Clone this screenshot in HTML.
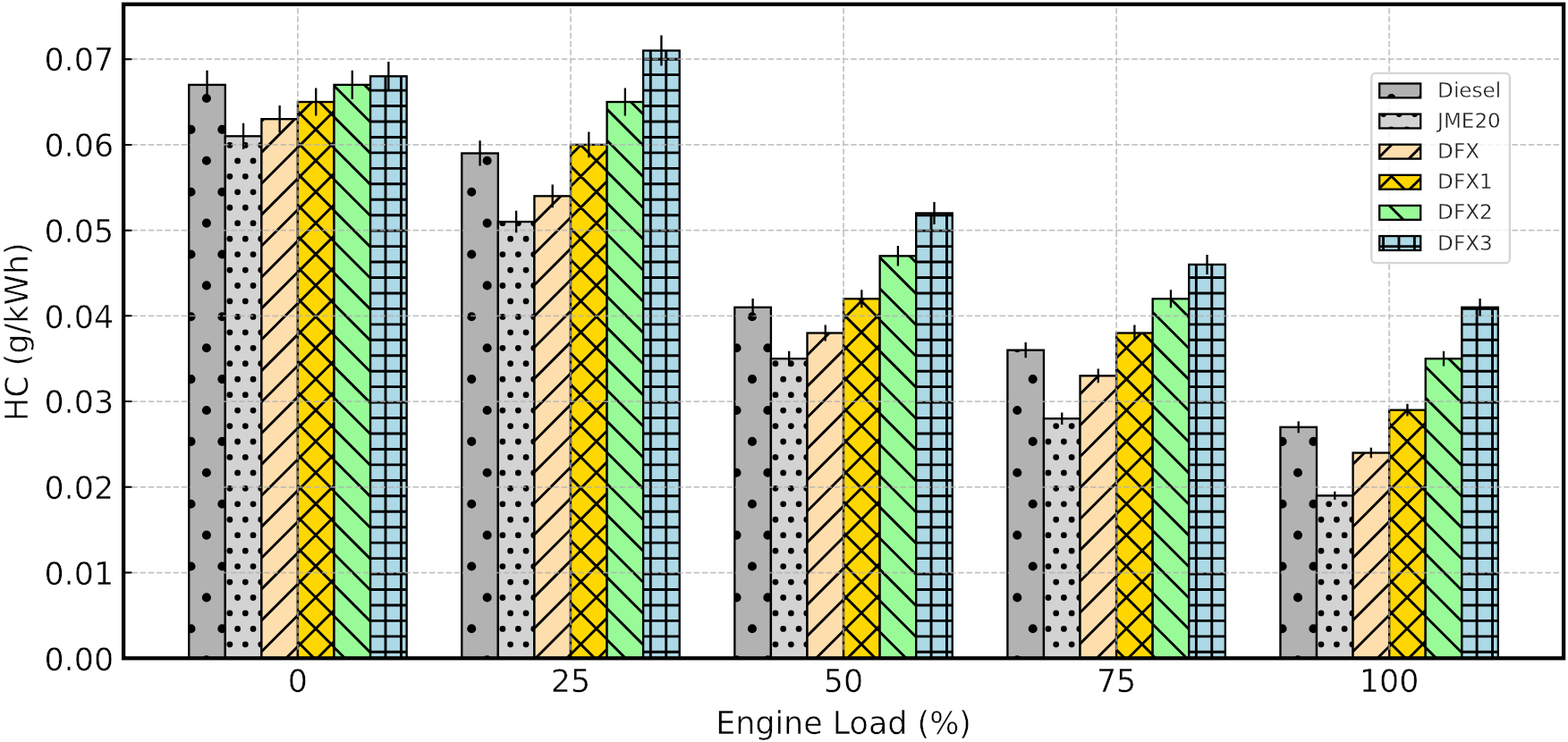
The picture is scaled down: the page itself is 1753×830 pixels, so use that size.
<!DOCTYPE html><html><head><meta charset="utf-8"><title>HC emissions vs engine load</title><style>html,body{margin:0;padding:0;background:#fff;}svg{display:block;}</style></head><body><svg width="1753" height="830" viewBox="0 0 1753 830"><defs><clipPath id="c1"><rect x="211.24" y="94.88" width="40.57" height="641.42"/></clipPath><clipPath id="c2"><rect x="516.29" y="171.47" width="40.57" height="564.83"/></clipPath><clipPath id="c3"><rect x="821.34" y="343.79" width="40.57" height="392.51"/></clipPath><clipPath id="c4"><rect x="1126.39" y="391.66" width="40.57" height="344.64"/></clipPath><clipPath id="c5"><rect x="1431.44" y="477.82" width="40.57" height="258.48"/></clipPath><clipPath id="c6"><rect x="251.81" y="152.32" width="40.57" height="583.98"/></clipPath><clipPath id="c7"><rect x="556.86" y="248.06" width="40.57" height="488.24"/></clipPath><clipPath id="c8"><rect x="861.91" y="401.23" width="40.57" height="335.07"/></clipPath><clipPath id="c9"><rect x="1166.96" y="468.24" width="40.57" height="268.06"/></clipPath><clipPath id="c10"><rect x="1472.01" y="554.41" width="40.57" height="181.89"/></clipPath><clipPath id="c11"><rect x="292.38" y="133.18" width="40.57" height="603.12"/></clipPath><clipPath id="c12"><rect x="597.43" y="219.34" width="40.57" height="516.96"/></clipPath><clipPath id="c13"><rect x="902.48" y="372.51" width="40.57" height="363.79"/></clipPath><clipPath id="c14"><rect x="1207.53" y="420.38" width="40.57" height="315.92"/></clipPath><clipPath id="c15"><rect x="1512.58" y="506.54" width="40.57" height="229.76"/></clipPath><clipPath id="c16"><rect x="332.95" y="114.03" width="40.57" height="622.27"/></clipPath><clipPath id="c17"><rect x="638" y="161.9" width="40.57" height="574.4"/></clipPath><clipPath id="c18"><rect x="943.05" y="334.22" width="40.57" height="402.08"/></clipPath><clipPath id="c19"><rect x="1248.1" y="372.51" width="40.57" height="363.79"/></clipPath><clipPath id="c20"><rect x="1553.15" y="458.67" width="40.57" height="277.63"/></clipPath><clipPath id="c21"><rect x="373.52" y="94.88" width="40.57" height="641.42"/></clipPath><clipPath id="c22"><rect x="678.57" y="114.03" width="40.57" height="622.27"/></clipPath><clipPath id="c23"><rect x="983.62" y="286.35" width="40.57" height="449.95"/></clipPath><clipPath id="c24"><rect x="1288.67" y="334.22" width="40.57" height="402.08"/></clipPath><clipPath id="c25"><rect x="1593.72" y="401.23" width="40.57" height="335.07"/></clipPath><clipPath id="c26"><rect x="414.09" y="85.31" width="40.57" height="650.99"/></clipPath><clipPath id="c27"><rect x="719.14" y="56.59" width="40.57" height="679.71"/></clipPath><clipPath id="c28"><rect x="1024.19" y="238.48" width="40.57" height="497.82"/></clipPath><clipPath id="c29"><rect x="1329.24" y="295.92" width="40.57" height="440.38"/></clipPath><clipPath id="c30"><rect x="1634.29" y="343.79" width="40.57" height="392.51"/></clipPath><clipPath id="c31"><rect x="1542.2" y="93.45" width="46" height="15.9"/></clipPath><clipPath id="c32"><rect x="1542.2" y="127.57" width="46" height="15.9"/></clipPath><clipPath id="c33"><rect x="1542.2" y="161.69" width="46" height="15.9"/></clipPath><clipPath id="c34"><rect x="1542.2" y="195.81" width="46" height="15.9"/></clipPath><clipPath id="c35"><rect x="1542.2" y="229.93" width="46" height="15.9"/></clipPath><clipPath id="c36"><rect x="1542.2" y="264.05" width="46" height="15.9"/></clipPath></defs><rect width="1753" height="830" fill="#fff"/><rect x="211.24" y="94.88" width="40.57" height="641.42" fill="#b2b2b2"/><path clip-path="url(#c1)" d="M230.9 110h0M213.47 144.9h0M248.33 144.9h0M230.9 179.8h0M213.47 214.7h0M248.33 214.7h0M230.9 249.6h0M213.47 284.5h0M248.33 284.5h0M230.9 319.4h0M213.47 354.3h0M248.33 354.3h0M230.9 389.2h0M213.47 424.1h0M248.33 424.1h0M230.9 459h0M213.47 493.9h0M248.33 493.9h0M230.9 528.8h0M213.47 563.7h0M248.33 563.7h0M230.9 598.6h0M213.47 633.5h0M248.33 633.5h0M230.9 668.4h0M213.47 703.3h0M248.33 703.3h0M230.9 738.2h0" stroke="#000" stroke-width="10.1" stroke-linecap="round"/><rect x="211.24" y="94.88" width="40.57" height="641.42" fill="none" stroke="#000" stroke-width="2.33"/><rect x="516.29" y="171.47" width="40.57" height="564.83" fill="#b2b2b2"/><path clip-path="url(#c2)" d="M544.64 179.8h0M527.21 214.7h0M544.64 249.6h0M527.21 284.5h0M544.64 319.4h0M527.21 354.3h0M544.64 389.2h0M527.21 424.1h0M544.64 459h0M527.21 493.9h0M544.64 528.8h0M527.21 563.7h0M544.64 598.6h0M527.21 633.5h0M544.64 668.4h0M527.21 703.3h0M544.64 738.2h0" stroke="#000" stroke-width="10.1" stroke-linecap="round"/><rect x="516.29" y="171.47" width="40.57" height="564.83" fill="none" stroke="#000" stroke-width="2.33"/><rect x="821.34" y="343.79" width="40.57" height="392.51" fill="#b2b2b2"/><path clip-path="url(#c3)" d="M840.95 354.3h0M823.52 389.2h0M858.38 389.2h0M840.95 424.1h0M823.52 459h0M858.38 459h0M840.95 493.9h0M823.52 528.8h0M858.38 528.8h0M840.95 563.7h0M823.52 598.6h0M858.38 598.6h0M840.95 633.5h0M823.52 668.4h0M858.38 668.4h0M840.95 703.3h0M823.52 738.2h0M858.38 738.2h0" stroke="#000" stroke-width="10.1" stroke-linecap="round"/><rect x="821.34" y="343.79" width="40.57" height="392.51" fill="none" stroke="#000" stroke-width="2.33"/><rect x="1126.39" y="391.66" width="40.57" height="344.64" fill="#b2b2b2"/><path clip-path="url(#c4)" d="M1137.26 389.2h0M1154.69 424.1h0M1137.26 459h0M1154.69 493.9h0M1137.26 528.8h0M1154.69 563.7h0M1137.26 598.6h0M1154.69 633.5h0M1137.26 668.4h0M1154.69 703.3h0M1137.26 738.2h0" stroke="#000" stroke-width="10.1" stroke-linecap="round"/><rect x="1126.39" y="391.66" width="40.57" height="344.64" fill="none" stroke="#000" stroke-width="2.33"/><rect x="1431.44" y="477.82" width="40.57" height="258.48" fill="#b2b2b2"/><path clip-path="url(#c5)" d="M1433.57 493.9h0M1468.43 493.9h0M1451 528.8h0M1433.57 563.7h0M1468.43 563.7h0M1451 598.6h0M1433.57 633.5h0M1468.43 633.5h0M1451 668.4h0M1433.57 703.3h0M1468.43 703.3h0M1451 738.2h0" stroke="#000" stroke-width="10.1" stroke-linecap="round"/><rect x="1431.44" y="477.82" width="40.57" height="258.48" fill="none" stroke="#000" stroke-width="2.33"/><rect x="251.81" y="152.32" width="40.57" height="583.98" fill="#d3d3d3"/><path clip-path="url(#c6)" d="M256.89 162.45h0M274.31 162.45h0M291.75 162.45h0M265.6 179.9h0M283.03 179.9h0M256.89 197.35h0M274.31 197.35h0M291.75 197.35h0M265.6 214.8h0M283.03 214.8h0M256.89 232.25h0M274.31 232.25h0M291.75 232.25h0M265.6 249.7h0M283.03 249.7h0M256.89 267.15h0M274.31 267.15h0M291.75 267.15h0M265.6 284.6h0M283.03 284.6h0M256.89 302.05h0M274.31 302.05h0M291.75 302.05h0M265.6 319.5h0M283.03 319.5h0M256.89 336.95h0M274.31 336.95h0M291.75 336.95h0M265.6 354.4h0M283.03 354.4h0M256.89 371.85h0M274.31 371.85h0M291.75 371.85h0M265.6 389.3h0M283.03 389.3h0M256.89 406.75h0M274.31 406.75h0M291.75 406.75h0M265.6 424.2h0M283.03 424.2h0M256.89 441.65h0M274.31 441.65h0M291.75 441.65h0M265.6 459.1h0M283.03 459.1h0M256.89 476.55h0M274.31 476.55h0M291.75 476.55h0M265.6 494h0M283.03 494h0M256.89 511.45h0M274.31 511.45h0M291.75 511.45h0M265.6 528.9h0M283.03 528.9h0M256.89 546.35h0M274.31 546.35h0M291.75 546.35h0M265.6 563.8h0M283.03 563.8h0M256.89 581.25h0M274.31 581.25h0M291.75 581.25h0M265.6 598.7h0M283.03 598.7h0M256.89 616.15h0M274.31 616.15h0M291.75 616.15h0M265.6 633.6h0M283.03 633.6h0M256.89 651.05h0M274.31 651.05h0M291.75 651.05h0M265.6 668.5h0M283.03 668.5h0M256.89 685.95h0M274.31 685.95h0M291.75 685.95h0M265.6 703.4h0M283.03 703.4h0M256.89 720.85h0M274.31 720.85h0M291.75 720.85h0M265.6 738.3h0M283.03 738.3h0" stroke="#000" stroke-width="6.8" stroke-linecap="round"/><rect x="251.81" y="152.32" width="40.57" height="583.98" fill="none" stroke="#000" stroke-width="2.33"/><rect x="556.86" y="248.06" width="40.57" height="488.24" fill="#d3d3d3"/><path clip-path="url(#c7)" d="M561.91 249.7h0M579.34 249.7h0M596.77 249.7h0M570.62 267.15h0M588.06 267.15h0M561.91 284.6h0M579.34 284.6h0M596.77 284.6h0M570.62 302.05h0M588.06 302.05h0M561.91 319.5h0M579.34 319.5h0M596.77 319.5h0M570.62 336.95h0M588.06 336.95h0M561.91 354.4h0M579.34 354.4h0M596.77 354.4h0M570.62 371.85h0M588.06 371.85h0M561.91 389.3h0M579.34 389.3h0M596.77 389.3h0M570.62 406.75h0M588.06 406.75h0M561.91 424.2h0M579.34 424.2h0M596.77 424.2h0M570.62 441.65h0M588.06 441.65h0M561.91 459.1h0M579.34 459.1h0M596.77 459.1h0M570.62 476.55h0M588.06 476.55h0M561.91 494h0M579.34 494h0M596.77 494h0M570.62 511.45h0M588.06 511.45h0M561.91 528.9h0M579.34 528.9h0M596.77 528.9h0M570.62 546.35h0M588.06 546.35h0M561.91 563.8h0M579.34 563.8h0M596.77 563.8h0M570.62 581.25h0M588.06 581.25h0M561.91 598.7h0M579.34 598.7h0M596.77 598.7h0M570.62 616.15h0M588.06 616.15h0M561.91 633.6h0M579.34 633.6h0M596.77 633.6h0M570.62 651.05h0M588.06 651.05h0M561.91 668.5h0M579.34 668.5h0M596.77 668.5h0M570.62 685.95h0M588.06 685.95h0M561.91 703.4h0M579.34 703.4h0M596.77 703.4h0M570.62 720.85h0M588.06 720.85h0M561.91 738.3h0M579.34 738.3h0M596.77 738.3h0" stroke="#000" stroke-width="6.8" stroke-linecap="round"/><rect x="556.86" y="248.06" width="40.57" height="488.24" fill="none" stroke="#000" stroke-width="2.33"/><rect x="861.91" y="401.23" width="40.57" height="335.07" fill="#d3d3d3"/><path clip-path="url(#c8)" d="M866.94 406.75h0M884.37 406.75h0M901.79 406.75h0M875.65 424.2h0M893.08 424.2h0M866.94 441.65h0M884.37 441.65h0M901.79 441.65h0M875.65 459.1h0M893.08 459.1h0M866.94 476.55h0M884.37 476.55h0M901.79 476.55h0M875.65 494h0M893.08 494h0M866.94 511.45h0M884.37 511.45h0M901.79 511.45h0M875.65 528.9h0M893.08 528.9h0M866.94 546.35h0M884.37 546.35h0M901.79 546.35h0M875.65 563.8h0M893.08 563.8h0M866.94 581.25h0M884.37 581.25h0M901.79 581.25h0M875.65 598.7h0M893.08 598.7h0M866.94 616.15h0M884.37 616.15h0M901.79 616.15h0M875.65 633.6h0M893.08 633.6h0M866.94 651.05h0M884.37 651.05h0M901.79 651.05h0M875.65 668.5h0M893.08 668.5h0M866.94 685.95h0M884.37 685.95h0M901.79 685.95h0M875.65 703.4h0M893.08 703.4h0M866.94 720.85h0M884.37 720.85h0M901.79 720.85h0M875.65 738.3h0M893.08 738.3h0" stroke="#000" stroke-width="6.8" stroke-linecap="round"/><rect x="861.91" y="401.23" width="40.57" height="335.07" fill="none" stroke="#000" stroke-width="2.33"/><rect x="1166.96" y="468.24" width="40.57" height="268.06" fill="#d3d3d3"/><path clip-path="url(#c9)" d="M1180.67 476.55h0M1198.11 476.55h0M1171.96 494h0M1189.39 494h0M1206.82 494h0M1180.67 511.45h0M1198.11 511.45h0M1171.96 528.9h0M1189.39 528.9h0M1206.82 528.9h0M1180.67 546.35h0M1198.11 546.35h0M1171.96 563.8h0M1189.39 563.8h0M1206.82 563.8h0M1180.67 581.25h0M1198.11 581.25h0M1171.96 598.7h0M1189.39 598.7h0M1206.82 598.7h0M1180.67 616.15h0M1198.11 616.15h0M1171.96 633.6h0M1189.39 633.6h0M1206.82 633.6h0M1180.67 651.05h0M1198.11 651.05h0M1171.96 668.5h0M1189.39 668.5h0M1206.82 668.5h0M1180.67 685.95h0M1198.11 685.95h0M1171.96 703.4h0M1189.39 703.4h0M1206.82 703.4h0M1180.67 720.85h0M1198.11 720.85h0M1171.96 738.3h0M1189.39 738.3h0M1206.82 738.3h0" stroke="#000" stroke-width="6.8" stroke-linecap="round"/><rect x="1166.96" y="468.24" width="40.57" height="268.06" fill="none" stroke="#000" stroke-width="2.33"/><rect x="1472.01" y="554.41" width="40.57" height="181.89" fill="#d3d3d3"/><path clip-path="url(#c10)" d="M1485.7 563.8h0M1503.13 563.8h0M1476.99 581.25h0M1494.41 581.25h0M1511.84 581.25h0M1485.7 598.7h0M1503.13 598.7h0M1476.99 616.15h0M1494.41 616.15h0M1511.84 616.15h0M1485.7 633.6h0M1503.13 633.6h0M1476.99 651.05h0M1494.41 651.05h0M1511.84 651.05h0M1485.7 668.5h0M1503.13 668.5h0M1476.99 685.95h0M1494.41 685.95h0M1511.84 685.95h0M1485.7 703.4h0M1503.13 703.4h0M1476.99 720.85h0M1494.41 720.85h0M1511.84 720.85h0M1485.7 738.3h0M1503.13 738.3h0" stroke="#000" stroke-width="6.8" stroke-linecap="round"/><rect x="1472.01" y="554.41" width="40.57" height="181.89" fill="none" stroke="#000" stroke-width="2.33"/><rect x="292.38" y="133.18" width="40.57" height="603.12" fill="#ffdead"/><path clip-path="url(#c11)" d="M299.74 128.18L-312.68 741.3M334.6 128.18L-277.82 741.3M369.46 128.18L-242.96 741.3M404.32 128.18L-208.1 741.3M439.18 128.18L-173.24 741.3M474.04 128.18L-138.38 741.3M508.9 128.18L-103.52 741.3M543.76 128.18L-68.66 741.3M578.62 128.18L-33.8 741.3M613.48 128.18L1.06 741.3M648.34 128.18L35.92 741.3M683.2 128.18L70.78 741.3M718.06 128.18L105.64 741.3M752.92 128.18L140.5 741.3M787.78 128.18L175.36 741.3M822.64 128.18L210.22 741.3M857.5 128.18L245.08 741.3M892.36 128.18L279.94 741.3M927.22 128.18L314.8 741.3" stroke="#000" stroke-width="2.9" stroke-linecap="square"/><rect x="292.38" y="133.18" width="40.57" height="603.12" fill="none" stroke="#000" stroke-width="2.33"/><rect x="597.43" y="219.34" width="40.57" height="516.96" fill="#ffdead"/><path clip-path="url(#c12)" d="M597.14 214.34L70.78 741.3M632 214.34L105.64 741.3M666.86 214.34L140.5 741.3M701.72 214.34L175.36 741.3M736.58 214.34L210.22 741.3M771.44 214.34L245.08 741.3M806.3 214.34L279.94 741.3M841.16 214.34L314.8 741.3M876.02 214.34L349.66 741.3M910.88 214.34L384.52 741.3M945.74 214.34L419.38 741.3M980.6 214.34L454.24 741.3M1015.46 214.34L489.1 741.3M1050.32 214.34L523.96 741.3M1085.18 214.34L558.82 741.3M1120.04 214.34L593.68 741.3M1154.9 214.34L628.54 741.3" stroke="#000" stroke-width="2.9" stroke-linecap="square"/><rect x="597.43" y="219.34" width="40.57" height="516.96" fill="none" stroke="#000" stroke-width="2.33"/><rect x="902.48" y="372.51" width="40.57" height="363.79" fill="#ffdead"/><path clip-path="url(#c13)" d="M932.18 367.51L558.82 741.3M967.04 367.51L593.68 741.3M1001.9 367.51L628.54 741.3M1036.76 367.51L663.4 741.3M1071.62 367.51L698.26 741.3M1106.48 367.51L733.12 741.3M1141.34 367.51L767.98 741.3M1176.2 367.51L802.84 741.3M1211.06 367.51L837.7 741.3M1245.92 367.51L872.56 741.3M1280.78 367.51L907.42 741.3M1315.64 367.51L942.28 741.3" stroke="#000" stroke-width="2.9" stroke-linecap="square"/><rect x="902.48" y="372.51" width="40.57" height="363.79" fill="none" stroke="#000" stroke-width="2.33"/><rect x="1207.53" y="420.38" width="40.57" height="315.92" fill="#ffdead"/><path clip-path="url(#c14)" d="M1232.97 415.38L907.42 741.3M1267.83 415.38L942.28 741.3M1302.69 415.38L977.14 741.3M1337.55 415.38L1012 741.3M1372.41 415.38L1046.86 741.3M1407.27 415.38L1081.72 741.3M1442.13 415.38L1116.58 741.3M1476.99 415.38L1151.44 741.3M1511.85 415.38L1186.3 741.3M1546.71 415.38L1221.16 741.3" stroke="#000" stroke-width="2.9" stroke-linecap="square"/><rect x="1207.53" y="420.38" width="40.57" height="315.92" fill="none" stroke="#000" stroke-width="2.33"/><rect x="1512.58" y="506.54" width="40.57" height="229.76" fill="#ffdead"/><path clip-path="url(#c15)" d="M1530.36 501.54L1290.88 741.3M1565.22 501.54L1325.74 741.3M1600.08 501.54L1360.6 741.3M1634.94 501.54L1395.46 741.3M1669.8 501.54L1430.32 741.3M1704.66 501.54L1465.18 741.3M1739.52 501.54L1500.04 741.3M1774.38 501.54L1534.9 741.3" stroke="#000" stroke-width="2.9" stroke-linecap="square"/><rect x="1512.58" y="506.54" width="40.57" height="229.76" fill="none" stroke="#000" stroke-width="2.33"/><rect x="332.95" y="114.03" width="40.57" height="622.27" fill="#ffd700"/><path clip-path="url(#c16)" d="M353.87 109.03L-277.68 741.3M388.73 109.03L-242.82 741.3M423.59 109.03L-207.96 741.3M458.45 109.03L-173.1 741.3M493.31 109.03L-138.24 741.3M528.17 109.03L-103.38 741.3M563.03 109.03L-68.52 741.3M597.89 109.03L-33.66 741.3M632.75 109.03L1.2 741.3M667.61 109.03L36.06 741.3M702.47 109.03L70.92 741.3M737.33 109.03L105.78 741.3M772.19 109.03L140.64 741.3M807.05 109.03L175.5 741.3M841.91 109.03L210.36 741.3M876.77 109.03L245.22 741.3M911.63 109.03L280.08 741.3M946.49 109.03L314.94 741.3M981.35 109.03L349.8 741.3M-275.35 109.03L356.2 741.3M-240.49 109.03L391.06 741.3M-205.63 109.03L425.92 741.3M-170.77 109.03L460.78 741.3M-135.91 109.03L495.64 741.3M-101.05 109.03L530.5 741.3M-66.19 109.03L565.36 741.3M-31.33 109.03L600.22 741.3M3.53 109.03L635.08 741.3M38.39 109.03L669.94 741.3M73.25 109.03L704.8 741.3M108.11 109.03L739.66 741.3M142.97 109.03L774.52 741.3M177.83 109.03L809.38 741.3M212.69 109.03L844.24 741.3M247.55 109.03L879.1 741.3M282.41 109.03L913.96 741.3M317.27 109.03L948.82 741.3M352.13 109.03L983.68 741.3" stroke="#000" stroke-width="2.9" stroke-linecap="square"/><rect x="332.95" y="114.03" width="40.57" height="622.27" fill="none" stroke="#000" stroke-width="2.33"/><rect x="638" y="161.9" width="40.57" height="574.4" fill="#ffd700"/><path clip-path="url(#c17)" d="M654.66 156.9L70.92 741.3M689.52 156.9L105.78 741.3M724.38 156.9L140.64 741.3M759.24 156.9L175.5 741.3M794.1 156.9L210.36 741.3M828.96 156.9L245.22 741.3M863.82 156.9L280.08 741.3M898.68 156.9L314.94 741.3M933.54 156.9L349.8 741.3M968.4 156.9L384.66 741.3M1003.26 156.9L419.52 741.3M1038.12 156.9L454.38 741.3M1072.98 156.9L489.24 741.3M1107.84 156.9L524.1 741.3M1142.7 156.9L558.96 741.3M1177.56 156.9L593.82 741.3M1212.42 156.9L628.68 741.3M1247.28 156.9L663.54 741.3M51.34 156.9L635.08 741.3M86.2 156.9L669.94 741.3M121.06 156.9L704.8 741.3M155.92 156.9L739.66 741.3M190.78 156.9L774.52 741.3M225.64 156.9L809.38 741.3M260.5 156.9L844.24 741.3M295.36 156.9L879.1 741.3M330.22 156.9L913.96 741.3M365.08 156.9L948.82 741.3M399.94 156.9L983.68 741.3M434.8 156.9L1018.54 741.3M469.66 156.9L1053.4 741.3M504.52 156.9L1088.26 741.3M539.38 156.9L1123.12 741.3M574.24 156.9L1157.98 741.3M609.1 156.9L1192.84 741.3M643.96 156.9L1227.7 741.3M678.82 156.9L1262.56 741.3" stroke="#000" stroke-width="2.9" stroke-linecap="square"/><rect x="638" y="161.9" width="40.57" height="574.4" fill="none" stroke="#000" stroke-width="2.33"/><rect x="943.05" y="334.22" width="40.57" height="402.08" fill="#ffd700"/><path clip-path="url(#c18)" d="M970.57 329.22L558.96 741.3M1005.43 329.22L593.82 741.3M1040.29 329.22L628.68 741.3M1075.15 329.22L663.54 741.3M1110.01 329.22L698.4 741.3M1144.87 329.22L733.26 741.3M1179.73 329.22L768.12 741.3M1214.59 329.22L802.98 741.3M1249.45 329.22L837.84 741.3M1284.31 329.22L872.7 741.3M1319.17 329.22L907.56 741.3M1354.03 329.22L942.42 741.3M1388.89 329.22L977.28 741.3M537.21 329.22L948.82 741.3M572.07 329.22L983.68 741.3M606.93 329.22L1018.54 741.3M641.79 329.22L1053.4 741.3M676.65 329.22L1088.26 741.3M711.51 329.22L1123.12 741.3M746.37 329.22L1157.98 741.3M781.23 329.22L1192.84 741.3M816.09 329.22L1227.7 741.3M850.95 329.22L1262.56 741.3M885.81 329.22L1297.42 741.3M920.67 329.22L1332.28 741.3M955.53 329.22L1367.14 741.3" stroke="#000" stroke-width="2.9" stroke-linecap="square"/><rect x="943.05" y="334.22" width="40.57" height="402.08" fill="none" stroke="#000" stroke-width="2.33"/><rect x="1248.1" y="372.51" width="40.57" height="363.79" fill="#ffd700"/><path clip-path="url(#c19)" d="M1246.06 367.51L872.7 741.3M1280.92 367.51L907.56 741.3M1315.78 367.51L942.42 741.3M1350.64 367.51L977.28 741.3M1385.5 367.51L1012.14 741.3M1420.36 367.51L1047 741.3M1455.22 367.51L1081.86 741.3M1490.08 367.51L1116.72 741.3M1524.94 367.51L1151.58 741.3M1559.8 367.51L1186.44 741.3M1594.66 367.51L1221.3 741.3M1629.52 367.51L1256.16 741.3M1664.38 367.51L1291.02 741.3M889.2 367.51L1262.56 741.3M924.06 367.51L1297.42 741.3M958.92 367.51L1332.28 741.3M993.78 367.51L1367.14 741.3M1028.64 367.51L1402 741.3M1063.5 367.51L1436.86 741.3M1098.36 367.51L1471.72 741.3M1133.22 367.51L1506.58 741.3M1168.08 367.51L1541.44 741.3M1202.94 367.51L1576.3 741.3M1237.8 367.51L1611.16 741.3M1272.66 367.51L1646.02 741.3" stroke="#000" stroke-width="2.9" stroke-linecap="square"/><rect x="1248.1" y="372.51" width="40.57" height="363.79" fill="none" stroke="#000" stroke-width="2.33"/><rect x="1553.15" y="458.67" width="40.57" height="277.63" fill="#ffd700"/><path clip-path="url(#c20)" d="M1578.32 453.67L1291.02 741.3M1613.18 453.67L1325.88 741.3M1648.04 453.67L1360.74 741.3M1682.9 453.67L1395.6 741.3M1717.76 453.67L1430.46 741.3M1752.62 453.67L1465.32 741.3M1787.48 453.67L1500.18 741.3M1822.34 453.67L1535.04 741.3M1857.2 453.67L1569.9 741.3M1289 453.67L1576.3 741.3M1323.86 453.67L1611.16 741.3M1358.72 453.67L1646.02 741.3M1393.58 453.67L1680.88 741.3M1428.44 453.67L1715.74 741.3M1463.3 453.67L1750.6 741.3M1498.16 453.67L1785.46 741.3M1533.02 453.67L1820.32 741.3M1567.88 453.67L1855.18 741.3" stroke="#000" stroke-width="2.9" stroke-linecap="square"/><rect x="1553.15" y="458.67" width="40.57" height="277.63" fill="none" stroke="#000" stroke-width="2.33"/><rect x="373.52" y="94.88" width="40.57" height="641.42" fill="#98fb98"/><path clip-path="url(#c21)" d="M-260.07 89.88L390.6 741.3M-225.21 89.88L425.46 741.3M-190.35 89.88L460.32 741.3M-155.49 89.88L495.18 741.3M-120.63 89.88L530.04 741.3M-85.77 89.88L564.9 741.3M-50.91 89.88L599.76 741.3M-16.05 89.88L634.62 741.3M18.81 89.88L669.48 741.3M53.67 89.88L704.34 741.3M88.53 89.88L739.2 741.3M123.39 89.88L774.06 741.3M158.25 89.88L808.92 741.3M193.11 89.88L843.78 741.3M227.97 89.88L878.64 741.3M262.83 89.88L913.5 741.3M297.69 89.88L948.36 741.3M332.55 89.88L983.22 741.3M367.41 89.88L1018.08 741.3M402.27 89.88L1052.94 741.3" stroke="#000" stroke-width="2.9" stroke-linecap="square"/><rect x="373.52" y="94.88" width="40.57" height="641.42" fill="none" stroke="#000" stroke-width="2.33"/><rect x="678.57" y="114.03" width="40.57" height="622.27" fill="#98fb98"/><path clip-path="url(#c22)" d="M72.8 109.03L704.34 741.3M107.66 109.03L739.2 741.3M142.52 109.03L774.06 741.3M177.38 109.03L808.92 741.3M212.24 109.03L843.78 741.3M247.1 109.03L878.64 741.3M281.96 109.03L913.5 741.3M316.82 109.03L948.36 741.3M351.68 109.03L983.22 741.3M386.54 109.03L1018.08 741.3M421.4 109.03L1052.94 741.3M456.26 109.03L1087.8 741.3M491.12 109.03L1122.66 741.3M525.98 109.03L1157.52 741.3M560.84 109.03L1192.38 741.3M595.7 109.03L1227.24 741.3M630.56 109.03L1262.1 741.3M665.42 109.03L1296.96 741.3M700.28 109.03L1331.82 741.3" stroke="#000" stroke-width="2.9" stroke-linecap="square"/><rect x="678.57" y="114.03" width="40.57" height="622.27" fill="none" stroke="#000" stroke-width="2.33"/><rect x="983.62" y="286.35" width="40.57" height="449.95" fill="#98fb98"/><path clip-path="url(#c23)" d="M523.8 281.35L983.22 741.3M558.66 281.35L1018.08 741.3M593.52 281.35L1052.94 741.3M628.38 281.35L1087.8 741.3M663.24 281.35L1122.66 741.3M698.1 281.35L1157.52 741.3M732.96 281.35L1192.38 741.3M767.82 281.35L1227.24 741.3M802.68 281.35L1262.1 741.3M837.54 281.35L1296.96 741.3M872.4 281.35L1331.82 741.3M907.26 281.35L1366.68 741.3M942.12 281.35L1401.54 741.3M976.98 281.35L1436.4 741.3M1011.84 281.35L1471.26 741.3" stroke="#000" stroke-width="2.9" stroke-linecap="square"/><rect x="983.62" y="286.35" width="40.57" height="449.95" fill="none" stroke="#000" stroke-width="2.33"/><rect x="1288.67" y="334.22" width="40.57" height="402.08" fill="#98fb98"/><path clip-path="url(#c24)" d="M885.35 329.22L1296.96 741.3M920.21 329.22L1331.82 741.3M955.07 329.22L1366.68 741.3M989.93 329.22L1401.54 741.3M1024.79 329.22L1436.4 741.3M1059.65 329.22L1471.26 741.3M1094.51 329.22L1506.12 741.3M1129.37 329.22L1540.98 741.3M1164.23 329.22L1575.84 741.3M1199.09 329.22L1610.7 741.3M1233.95 329.22L1645.56 741.3M1268.81 329.22L1680.42 741.3M1303.67 329.22L1715.28 741.3" stroke="#000" stroke-width="2.9" stroke-linecap="square"/><rect x="1288.67" y="334.22" width="40.57" height="402.08" fill="none" stroke="#000" stroke-width="2.33"/><rect x="1593.72" y="401.23" width="40.57" height="335.07" fill="#98fb98"/><path clip-path="url(#c25)" d="M1266.03 396.23L1610.7 741.3M1300.89 396.23L1645.56 741.3M1335.75 396.23L1680.42 741.3M1370.61 396.23L1715.28 741.3M1405.47 396.23L1750.14 741.3M1440.33 396.23L1785 741.3M1475.19 396.23L1819.86 741.3M1510.05 396.23L1854.72 741.3M1544.91 396.23L1889.58 741.3M1579.77 396.23L1924.44 741.3M1614.63 396.23L1959.3 741.3" stroke="#000" stroke-width="2.9" stroke-linecap="square"/><rect x="1593.72" y="401.23" width="40.57" height="335.07" fill="none" stroke="#000" stroke-width="2.33"/><rect x="414.09" y="85.31" width="40.57" height="650.99" fill="#add8e6"/><path clip-path="url(#c26)" d="M413.57 82.31V739.3M431 82.31V739.3M448.43 82.31V739.3M411.09 83.65H457.66M411.09 101.1H457.66M411.09 118.55H457.66M411.09 136H457.66M411.09 153.45H457.66M411.09 170.9H457.66M411.09 188.35H457.66M411.09 205.8H457.66M411.09 223.25H457.66M411.09 240.7H457.66M411.09 258.15H457.66M411.09 275.6H457.66M411.09 293.05H457.66M411.09 310.5H457.66M411.09 327.95H457.66M411.09 345.4H457.66M411.09 362.85H457.66M411.09 380.3H457.66M411.09 397.75H457.66M411.09 415.2H457.66M411.09 432.65H457.66M411.09 450.1H457.66M411.09 467.55H457.66M411.09 485H457.66M411.09 502.45H457.66M411.09 519.9H457.66M411.09 537.35H457.66M411.09 554.8H457.66M411.09 572.25H457.66M411.09 589.7H457.66M411.09 607.15H457.66M411.09 624.6H457.66M411.09 642.05H457.66M411.09 659.5H457.66M411.09 676.95H457.66M411.09 694.4H457.66M411.09 711.85H457.66M411.09 729.3H457.66" stroke="#000" stroke-width="2.9" stroke-linecap="square"/><rect x="414.09" y="85.31" width="40.57" height="650.99" fill="none" stroke="#000" stroke-width="2.33"/><rect x="719.14" y="56.59" width="40.57" height="679.71" fill="#add8e6"/><path clip-path="url(#c27)" d="M727.31 53.59V739.3M744.74 53.59V739.3M762.17 53.59V739.3M716.14 66.2H762.71M716.14 83.65H762.71M716.14 101.1H762.71M716.14 118.55H762.71M716.14 136H762.71M716.14 153.45H762.71M716.14 170.9H762.71M716.14 188.35H762.71M716.14 205.8H762.71M716.14 223.25H762.71M716.14 240.7H762.71M716.14 258.15H762.71M716.14 275.6H762.71M716.14 293.05H762.71M716.14 310.5H762.71M716.14 327.95H762.71M716.14 345.4H762.71M716.14 362.85H762.71M716.14 380.3H762.71M716.14 397.75H762.71M716.14 415.2H762.71M716.14 432.65H762.71M716.14 450.1H762.71M716.14 467.55H762.71M716.14 485H762.71M716.14 502.45H762.71M716.14 519.9H762.71M716.14 537.35H762.71M716.14 554.8H762.71M716.14 572.25H762.71M716.14 589.7H762.71M716.14 607.15H762.71M716.14 624.6H762.71M716.14 642.05H762.71M716.14 659.5H762.71M716.14 676.95H762.71M716.14 694.4H762.71M716.14 711.85H762.71M716.14 729.3H762.71" stroke="#000" stroke-width="2.9" stroke-linecap="square"/><rect x="719.14" y="56.59" width="40.57" height="679.71" fill="none" stroke="#000" stroke-width="2.33"/><rect x="1024.19" y="238.48" width="40.57" height="497.82" fill="#add8e6"/><path clip-path="url(#c28)" d="M1023.62 235.48V739.3M1041.05 235.48V739.3M1058.48 235.48V739.3M1021.19 240.7H1067.76M1021.19 258.15H1067.76M1021.19 275.6H1067.76M1021.19 293.05H1067.76M1021.19 310.5H1067.76M1021.19 327.95H1067.76M1021.19 345.4H1067.76M1021.19 362.85H1067.76M1021.19 380.3H1067.76M1021.19 397.75H1067.76M1021.19 415.2H1067.76M1021.19 432.65H1067.76M1021.19 450.1H1067.76M1021.19 467.55H1067.76M1021.19 485H1067.76M1021.19 502.45H1067.76M1021.19 519.9H1067.76M1021.19 537.35H1067.76M1021.19 554.8H1067.76M1021.19 572.25H1067.76M1021.19 589.7H1067.76M1021.19 607.15H1067.76M1021.19 624.6H1067.76M1021.19 642.05H1067.76M1021.19 659.5H1067.76M1021.19 676.95H1067.76M1021.19 694.4H1067.76M1021.19 711.85H1067.76M1021.19 729.3H1067.76" stroke="#000" stroke-width="2.9" stroke-linecap="square"/><rect x="1024.19" y="238.48" width="40.57" height="497.82" fill="none" stroke="#000" stroke-width="2.33"/><rect x="1329.24" y="295.92" width="40.57" height="440.38" fill="#add8e6"/><path clip-path="url(#c29)" d="M1337.36 292.92V739.3M1354.79 292.92V739.3M1372.22 292.92V739.3M1326.24 293.05H1372.81M1326.24 310.5H1372.81M1326.24 327.95H1372.81M1326.24 345.4H1372.81M1326.24 362.85H1372.81M1326.24 380.3H1372.81M1326.24 397.75H1372.81M1326.24 415.2H1372.81M1326.24 432.65H1372.81M1326.24 450.1H1372.81M1326.24 467.55H1372.81M1326.24 485H1372.81M1326.24 502.45H1372.81M1326.24 519.9H1372.81M1326.24 537.35H1372.81M1326.24 554.8H1372.81M1326.24 572.25H1372.81M1326.24 589.7H1372.81M1326.24 607.15H1372.81M1326.24 624.6H1372.81M1326.24 642.05H1372.81M1326.24 659.5H1372.81M1326.24 676.95H1372.81M1326.24 694.4H1372.81M1326.24 711.85H1372.81M1326.24 729.3H1372.81" stroke="#000" stroke-width="2.9" stroke-linecap="square"/><rect x="1329.24" y="295.92" width="40.57" height="440.38" fill="none" stroke="#000" stroke-width="2.33"/><rect x="1634.29" y="343.79" width="40.57" height="392.51" fill="#add8e6"/><path clip-path="url(#c30)" d="M1633.67 340.79V739.3M1651.1 340.79V739.3M1668.53 340.79V739.3M1631.29 345.4H1677.86M1631.29 362.85H1677.86M1631.29 380.3H1677.86M1631.29 397.75H1677.86M1631.29 415.2H1677.86M1631.29 432.65H1677.86M1631.29 450.1H1677.86M1631.29 467.55H1677.86M1631.29 485H1677.86M1631.29 502.45H1677.86M1631.29 519.9H1677.86M1631.29 537.35H1677.86M1631.29 554.8H1677.86M1631.29 572.25H1677.86M1631.29 589.7H1677.86M1631.29 607.15H1677.86M1631.29 624.6H1677.86M1631.29 642.05H1677.86M1631.29 659.5H1677.86M1631.29 676.95H1677.86M1631.29 694.4H1677.86M1631.29 711.85H1677.86M1631.29 729.3H1677.86" stroke="#000" stroke-width="2.9" stroke-linecap="square"/><rect x="1634.29" y="343.79" width="40.57" height="392.51" fill="none" stroke="#000" stroke-width="2.33"/><path d="M332.95 736.3V4.76M638 736.3V4.76M943.05 736.3V4.76M1248.1 736.3V4.76M1553.15 736.3V4.76M138.1 736.3H1748.1M138.1 640.57H1748.1M138.1 544.83H1748.1M138.1 449.1H1748.1M138.1 353.36H1748.1M138.1 257.63H1748.1M138.1 161.9H1748.1M138.1 66.16H1748.1" stroke="#b0b0b0" stroke-opacity="0.75" stroke-width="1.74" stroke-dasharray="6.45 2.79" fill="none"/><path d="M332.95 736.3V727M638 736.3V727M943.05 736.3V727M1248.1 736.3V727M1553.15 736.3V727M138.1 736.3H147.4M138.1 640.57H147.4M138.1 544.83H147.4M138.1 449.1H147.4M138.1 353.36H147.4M138.1 257.63H147.4M138.1 161.9H147.4M138.1 66.16H147.4" stroke="#000" stroke-width="2.0" fill="none"/><path d="M231.52 110.92V78.85M536.57 185.59V157.35M841.62 353.6V333.98M1146.67 400.27V383.04M1451.72 484.28V471.36M272.09 166.92V137.72M577.14 260.26V235.85M882.19 409.61V392.85M1187.24 474.95V461.54M1492.29 558.95V549.86M312.66 148.25V118.1M617.71 232.26V206.41M922.76 381.61V363.42M1227.81 428.28V412.48M1532.86 512.28V500.79M353.24 129.59V98.47M658.29 176.26V147.54M963.34 344.27V324.17M1268.39 381.61V363.42M1573.44 465.61V451.73M393.81 110.92V78.85M698.86 129.59V98.47M1003.91 297.6V275.1M1308.96 344.27V324.17M1614.01 409.61V392.85M434.38 101.58V69.03M739.43 73.58V39.6M1044.48 250.93V226.04M1349.53 306.93V284.91M1654.58 353.6V333.98" stroke="#000" stroke-width="2.3" fill="none"/><rect x="138.1" y="4.76" width="1610" height="731.54" fill="none" stroke="#000" stroke-width="4.3"/><g font-family="'DejaVu Sans', 'Liberation Sans', sans-serif" font-size="34.9" fill="#000" stroke="#fff" stroke-width="0.5"><text x="127.1" y="749.6" text-anchor="end">0.00</text><text x="127.1" y="653.87" text-anchor="end">0.01</text><text x="127.1" y="558.13" text-anchor="end">0.02</text><text x="127.1" y="462.4" text-anchor="end">0.03</text><text x="127.1" y="366.66" text-anchor="end">0.04</text><text x="127.1" y="270.93" text-anchor="end">0.05</text><text x="127.1" y="175.2" text-anchor="end">0.06</text><text x="127.1" y="79.46" text-anchor="end">0.07</text><text x="332.95" y="774.2" text-anchor="middle">0</text><text x="638" y="774.2" text-anchor="middle">25</text><text x="943.05" y="774.2" text-anchor="middle">50</text><text x="1248.1" y="774.2" text-anchor="middle">75</text><text x="1553.15" y="774.2" text-anchor="middle">100</text><text x="943.05" y="820.6" text-anchor="middle">Engine Load (%)</text><text transform="translate(30.7 371.13) rotate(-90)" text-anchor="middle">HC (g/kWh)</text></g><rect x="1533.3" y="81.9" width="154.6" height="212.3" rx="4.65" ry="4.65" fill="#fff" fill-opacity="0.8" stroke="#ccc" stroke-opacity="0.8" stroke-width="2.3"/><rect x="1542.2" y="93.45" width="46" height="15.9" fill="#b2b2b2"/><path clip-path="url(#c31)" d="M1555.58 110h0M1590.44 110h0" stroke="#000" stroke-width="10.1" stroke-linecap="round"/><rect x="1542.2" y="93.45" width="46" height="15.9" fill="none" stroke="#000" stroke-width="2.33"/><rect x="1542.2" y="127.57" width="46" height="15.9" fill="#d3d3d3"/><path clip-path="url(#c32)" d="M1546.7 127.55h0M1564.14 127.55h0M1581.57 127.55h0M1555.42 145h0M1572.85 145h0M1590.28 145h0" stroke="#000" stroke-width="6.8" stroke-linecap="round"/><rect x="1542.2" y="127.57" width="46" height="15.9" fill="none" stroke="#000" stroke-width="2.33"/><rect x="1542.2" y="161.69" width="46" height="15.9" fill="#ffdead"/><path clip-path="url(#c33)" d="M1561.08 156.69L1535.21 182.59M1595.94 156.69L1570.07 182.59" stroke="#000" stroke-width="2.9" stroke-linecap="square"/><rect x="1542.2" y="161.69" width="46" height="15.9" fill="none" stroke="#000" stroke-width="2.33"/><rect x="1542.2" y="195.81" width="46" height="15.9" fill="#ffd700"/><path clip-path="url(#c34)" d="M1562 190.81L1536.13 216.71M1596.86 190.81L1570.99 216.71M1514.48 190.81L1540.35 216.71M1549.34 190.81L1575.21 216.71M1584.2 190.81L1610.07 216.71" stroke="#000" stroke-width="2.9" stroke-linecap="square"/><rect x="1542.2" y="195.81" width="46" height="15.9" fill="none" stroke="#000" stroke-width="2.33"/><rect x="1542.2" y="229.93" width="46" height="15.9" fill="#98fb98"/><path clip-path="url(#c35)" d="M1513.25 224.93L1539.12 250.83M1548.11 224.93L1573.98 250.83M1582.97 224.93L1608.84 250.83" stroke="#000" stroke-width="2.9" stroke-linecap="square"/><rect x="1542.2" y="229.93" width="46" height="15.9" fill="none" stroke="#000" stroke-width="2.33"/><rect x="1542.2" y="264.05" width="46" height="15.9" fill="#add8e6"/><path clip-path="url(#c36)" d="M1546.52 261.05V282.95M1563.95 261.05V282.95M1581.38 261.05V282.95M1539.2 275.6H1591.2" stroke="#000" stroke-width="2.9" stroke-linecap="square"/><rect x="1542.2" y="264.05" width="46" height="15.9" fill="none" stroke="#000" stroke-width="2.33"/><g font-family="'DejaVu Sans', 'Liberation Sans', sans-serif" font-size="23.1" fill="#1e1e1e" stroke="#fff" stroke-width="0.35"><text x="1607.1" y="108.9">Diesel</text><text x="1607.1" y="143.02">JME20</text><text x="1607.1" y="177.14">DFX</text><text x="1607.1" y="211.26">DFX1</text><text x="1607.1" y="245.38">DFX2</text><text x="1607.1" y="279.5">DFX3</text></g></svg></body></html>
